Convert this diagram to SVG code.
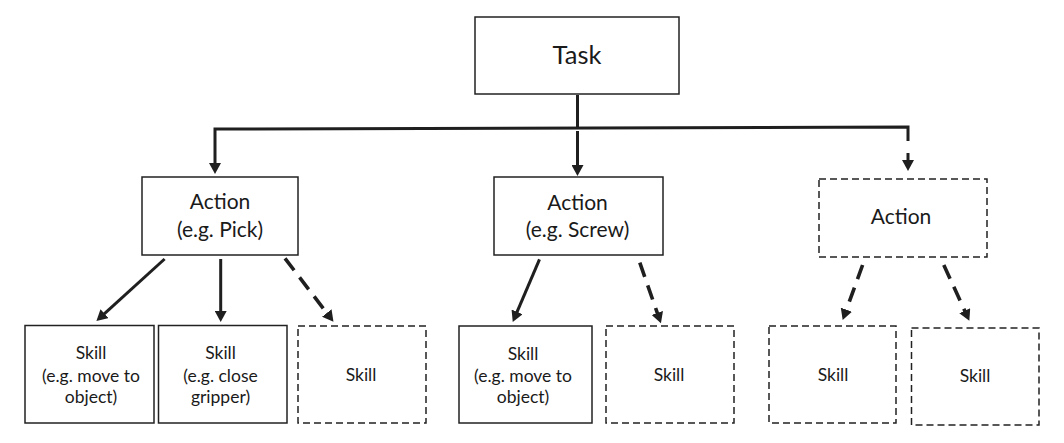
<svg xmlns="http://www.w3.org/2000/svg" width="1064" height="443" viewBox="0 0 1064 443">
<defs>
<style>
.box{fill:#fff;stroke:#222;stroke-width:1.5}
.dbox{fill:#fff;stroke:#222;stroke-width:1.5;stroke-dasharray:7 4}
.t{font-family:Lato,"Liberation Sans",sans-serif;fill:#1a1a1a;text-anchor:middle}
.tt{font-size:25.5px}
.ta{font-size:21px}
.ts{font-size:17.5px}
.c{fill:none;stroke:#1f1f1f;stroke-width:3}
.cd{fill:none;stroke:#1f1f1f;stroke-width:3.6;stroke-dasharray:15 9}
</style>
<marker id="ah" viewBox="0 0 11 12" markerUnits="userSpaceOnUse" markerWidth="11" markerHeight="12" refX="3" refY="6" orient="auto">
<path d="M0,0 L11,6 L0,12 z" fill="#1f1f1f"/>
</marker>
</defs>
<rect width="1064" height="443" fill="#fff"/>
<g id="connectors">
<line class="c" x1="577.5" y1="95" x2="577.5" y2="128"/>
<path class="c" d="M908,141 L908,127 L215,129 L215,166" marker-end="url(#ah)"/>
<line class="c" x1="577.5" y1="131" x2="577.5" y2="168" marker-end="url(#ah)"/>
<line class="c" x1="908" y1="153" x2="908" y2="163" marker-end="url(#ah)"/>
<line class="c" x1="164.6" y1="259" x2="102.3" y2="315.6" marker-end="url(#ah)"/>
<line class="c" x1="220.7" y1="259" x2="220.7" y2="314" marker-end="url(#ah)"/>
<line class="cd" x1="285" y1="258.3" x2="328.6" y2="315.4" marker-end="url(#ah)"/>
<line class="c" x1="539.5" y1="259.3" x2="515.9" y2="314.6" marker-end="url(#ah)"/>
<line class="cd" x1="639.8" y1="262.7" x2="658.3" y2="315.8" marker-end="url(#ah)"/>
<line class="cd" x1="862.6" y1="265" x2="845.4" y2="312.5" marker-end="url(#ah)"/>
<line class="cd" x1="943.8" y1="265" x2="966" y2="313.4" marker-end="url(#ah)"/>
</g>
<g id="task">
<rect class="box" x="475" y="17" width="204" height="77"/>
<text class="t tt" x="577" y="64">Task</text>
</g>
<g id="action-pick">
<rect class="box" x="142" y="177" width="156" height="78"/>
<text class="t ta" x="220" y="209">Action</text>
<text class="t ta" x="220" y="237">(e.g. Pick)</text>
</g>
<g id="action-screw">
<rect class="box" x="494" y="177" width="169" height="78"/>
<text class="t ta" x="577.5" y="210">Action</text>
<text class="t ta" x="577.5" y="237">(e.g. Screw)</text>
</g>
<g id="action-generic">
<rect class="dbox" x="819" y="179" width="168" height="78"/>
<text class="t ta" x="901" y="224">Action</text>
</g>
<g id="skill-move-1">
<rect class="box" x="25" y="325.5" width="129" height="97.5"/>
<text class="t ts" x="91" y="359">Skill</text>
<text class="t ts" x="91" y="381.5">(e.g. move to</text>
<text class="t ts" x="91" y="403">object)</text>
</g>
<g id="skill-close">
<rect class="box" x="158.5" y="325.5" width="128.5" height="97.5"/>
<text class="t ts" x="220.5" y="359">Skill</text>
<text class="t ts" x="220.5" y="381.5">(e.g. close</text>
<text class="t ts" x="220.5" y="403">gripper)</text>
</g>
<g id="skill-pick-generic">
<rect class="dbox" x="298" y="326" width="128" height="97"/>
<text class="t ts" x="361" y="381">Skill</text>
</g>
<g id="skill-move-2">
<rect class="box" x="459" y="326" width="133" height="97"/>
<text class="t ts" x="523" y="359.5">Skill</text>
<text class="t ts" x="523" y="381.5">(e.g. move to</text>
<text class="t ts" x="523" y="403">object)</text>
</g>
<g id="skill-screw-generic">
<rect class="dbox" x="606" y="326" width="128" height="97"/>
<text class="t ts" x="669" y="381">Skill</text>
</g>
<g id="skill-a3-1">
<rect class="dbox" x="769" y="326" width="127" height="97"/>
<text class="t ts" x="833" y="381">Skill</text>
</g>
<g id="skill-a3-2">
<rect class="dbox" x="911.5" y="328" width="127.5" height="97"/>
<text class="t ts" x="975" y="382">Skill</text>
</g>
</svg>
